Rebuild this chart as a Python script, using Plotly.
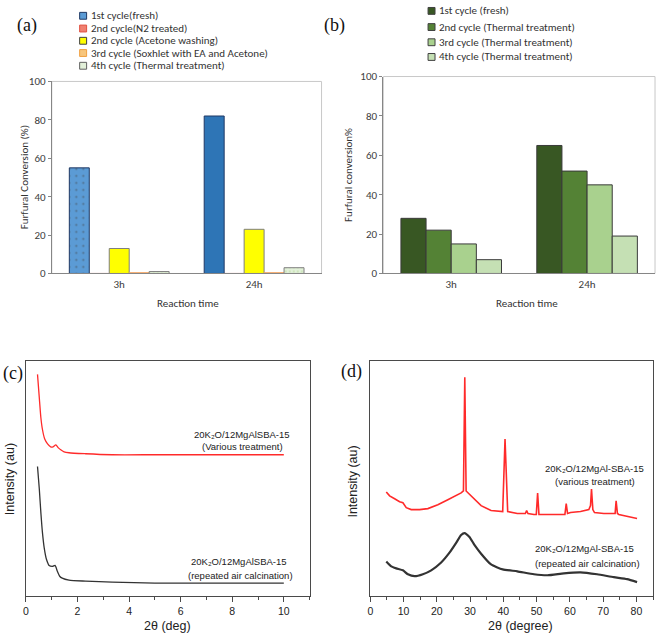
import plotly.graph_objects as go

W, H = 661, 642

# ---------------- data ----------------
categories = ["3h", "24h"]

a_names = ["1st cycle(fresh)", "2nd cycle(N2 treated)", "2nd cycle (Acetone washing)",
           "3rd cycle (Soxhlet with EA and Acetone)", "4th cycle (Thermal treatment)"]
a_fresh = [55, 82]
a_n2 = [0, 0]
a_acetone = [13, 23]
a_soxhlet = [0.4, 0.4]
a_thermal = [1, 3]

b_names = ["1st cycle (fresh)", "2nd cycle (Thermal treatment)",
           "3rd cycle (Thermal treatment)", "4th cycle (Thermal treatment)"]
b_cycle1 = [28, 65]
b_cycle2 = [22, 52]
b_cycle3 = [15, 45]
b_cycle4 = [7, 19]

bar_ticks = [0, 20, 40, 60, 80, 100]

# (c) low-angle XRD, arbitrary intensity units
c_x_treated = [0.45, 0.52, 0.58, 0.64, 0.73, 0.84, 0.96, 1.05, 1.16, 1.26, 1.35, 1.48, 1.67, 2.31, 3.34, 5.0, 7.0, 10.0]
c_y_treated = [226, 202, 182, 170, 160, 155, 152, 152, 154, 151, 149, 147, 146, 145, 144, 144, 144, 144]
c_x_air = [0.45, 0.52, 0.58, 0.64, 0.71, 0.80, 0.90, 1.03, 1.13, 1.22, 1.31, 1.41, 1.67, 2.31, 3.34, 5.0, 7.0, 10.0]
c_y_air = [132, 109, 85, 65, 49, 37, 31, 30, 31, 25, 20, 18, 16, 15, 14, 13, 13, 13]
c_ticks = [0, 2, 4, 6, 8, 10]

# (d) wide-angle XRD, arbitrary intensity units
d_x_treated = [4.8, 5.8, 7.3, 8.8, 9.8, 10.8, 12.3, 14.8, 17.3, 20.3, 23.3, 25.8, 27.3, 28.0,
               28.4, 28.8, 30.3, 33.3, 36.3, 39.8, 40.5, 41.3, 44.2, 46.6, 47.0, 47.4, 49.2,
               49.9, 50.3, 50.7, 51.7, 56.2, 58.5, 58.9, 59.3, 60.2, 63.2, 65.7, 66.2, 66.5,
               66.9, 67.4, 70.2, 73.2, 73.6, 73.9, 74.3, 74.7, 77.2, 80.2]
d_y_treated = [106, 102, 99, 96, 95, 90, 88, 88, 89, 93, 98, 102, 105, 107,
               223, 107, 102, 92, 87, 86, 160, 86, 84, 84, 87, 84, 83,
               83, 105, 83, 83, 83, 83, 94, 84, 85, 86, 88, 92, 109,
               88, 85, 84, 84, 84, 97, 84, 83, 81, 79]
d_x_air = [4.8, 6.3, 7.8, 9.8, 11.3, 13.3, 15.8, 18.3, 21.3, 23.8, 25.8, 27.3, 28.3, 29.8,
           31.3, 33.3, 36.3, 39.8, 44.2, 49.2, 53.3, 58.2, 63.2, 68.2, 73.2, 77.2, 80.2]
d_y_air = [35, 30, 28, 26, 22, 20, 22, 26, 34, 44, 54, 62, 64, 60,
           52, 43, 32, 27, 25, 22, 21, 23, 24, 22, 19, 17, 14]
d_ticks = [0, 10, 20, 30, 40, 50, 60, 70, 80]

# ---------------- layout helpers ----------------
def px(x):
    return x / W

def py(y):
    return 1 - y / H

SANS = "Carlito, Lato, Liberation Sans, sans-serif"
ARIAL = "Liberation Sans Narrow, Arial Narrow, Liberation Sans, Arial, sans-serif"
SERIF = "Liberation Serif, Times New Roman, serif"

fig = go.Figure()

# ---- panel (a) ----
a_series = [a_fresh, a_n2, a_acetone, a_soxhlet, a_thermal]
a_fill = [["#5b9bd5", "#2e75b6"], "#f08070", "#ffff00", "#f4b183", "#e2f0d9"]
a_line = ["#1f3864", "#c0504d", "#7f7f7f", "#f4a460", "#7f7f7f"]
for i, (vals, nm) in enumerate(zip(a_series, a_names)):
    marker = dict(color=a_fill[i], line=dict(color=a_line[i], width=1))
    if i == 0:
        marker["pattern"] = dict(shape=[".", ""], fgcolor="#c08a40", size=7, solidity=0.08)
    if i == 4:
        marker["pattern"] = dict(shape=".", fgcolor="#a9d18e", size=4, solidity=0.2)
    fig.add_trace(go.Bar(x=categories, y=vals, name=nm, marker=marker,
                         xaxis="x", yaxis="y", showlegend=False))

# ---- panel (b) ----
b_series = [b_cycle1, b_cycle2, b_cycle3, b_cycle4]
b_fill = ["#385723", "#548235", "#a9d18e", "#c5e0b4"]
for vals, nm, col in zip(b_series, b_names, b_fill):
    fig.add_trace(go.Bar(x=categories, y=vals, name=nm,
                         marker=dict(color=col, line=dict(color="#3a3a3a", width=1)),
                         xaxis="x2", yaxis="y2", showlegend=False))

# ---- panel (c) ----
fig.add_trace(go.Scatter(x=c_x_treated, y=c_y_treated, mode="lines",
                         line=dict(color="#ff2a2a", width=1.3, shape="spline", smoothing=0.6),
                         xaxis="x3", yaxis="y3", showlegend=False))
fig.add_trace(go.Scatter(x=c_x_air, y=c_y_air, mode="lines",
                         line=dict(color="#333333", width=1.3, shape="spline", smoothing=0.6),
                         xaxis="x3", yaxis="y3", showlegend=False))

# ---- panel (d) ----
fig.add_trace(go.Scatter(x=d_x_treated, y=d_y_treated, mode="lines", line=dict(color="#ff2a2a", width=1.6),
                         xaxis="x4", yaxis="y4", showlegend=False))
fig.add_trace(go.Scatter(x=d_x_air, y=d_y_air, mode="lines",
                         line=dict(color="#333333", width=2.2, shape="spline", smoothing=0.5),
                         xaxis="x4", yaxis="y4", showlegend=False))

bar_tickfont = dict(family=SANS, size=11, color="#404040")
xyfont = dict(family=ARIAL, size=10.5, color="#222222")

fig.update_layout(
    width=W, height=H, margin=dict(l=0, r=0, t=0, b=0),
    paper_bgcolor="white", plot_bgcolor="white",
    barmode="group", bargap=0.26, bargroupgap=0,
    xaxis=dict(domain=[px(49), px(320)], anchor="y", type="category", range=[-0.5, 1.5],
               showline=True, linecolor="#868686", linewidth=1, ticks="", tickfont=bar_tickfont,
               showgrid=False, zeroline=False),
    yaxis=dict(domain=[py(273), py(77)], anchor="x", range=[0, 100], tickvals=bar_ticks,
               showline=True, linecolor="#868686", linewidth=1, ticks="outside", ticklen=3,
               tickcolor="#868686", tickfont=bar_tickfont, showgrid=False, zeroline=False),
    xaxis2=dict(domain=[px(382), px(655)], anchor="y2", type="category", range=[-0.5, 1.5],
                showline=True, linecolor="#868686", linewidth=1, ticks="", tickfont=bar_tickfont,
                showgrid=False, zeroline=False),
    yaxis2=dict(domain=[py(273), py(72)], anchor="x2", range=[0, 100], tickvals=bar_ticks,
                showline=True, linecolor="#868686", linewidth=1, ticks="outside", ticklen=3,
                tickcolor="#868686", tickfont=bar_tickfont, showgrid=False, zeroline=False),
    xaxis3=dict(domain=[px(23), px(308)], anchor="y3", range=[0, 11], tickvals=c_ticks,
                showline=True, mirror=True, linecolor="#4a4a4a", linewidth=1.2,
                ticks="outside", ticklen=5, tickcolor="#4a4a4a",
                minor=dict(dtick=1, ticks="outside", ticklen=3, tickcolor="#4a4a4a"),
                tickfont=xyfont, showgrid=False, zeroline=False),
    yaxis3=dict(domain=[py(602), py(362)], anchor="x3", range=[0, 240], showticklabels=False,
                showline=True, mirror=True, linecolor="#4a4a4a", linewidth=1.2, ticks="",
                showgrid=False, zeroline=False),
    xaxis4=dict(domain=[px(369), px(653)], anchor="y4", range=[0, 85], tickvals=d_ticks,
                showline=True, mirror=True, linecolor="#4a4a4a", linewidth=1.2,
                ticks="outside", ticklen=5, tickcolor="#4a4a4a",
                minor=dict(dtick=5, ticks="outside", ticklen=3, tickcolor="#4a4a4a"),
                tickfont=xyfont, showgrid=False, zeroline=False),
    yaxis4=dict(domain=[py(602), py(362)], anchor="x4", range=[0, 240], showticklabels=False,
                showline=True, mirror=True, linecolor="#4a4a4a", linewidth=1.2, ticks="",
                showgrid=False, zeroline=False),
)

shapes = []
for xr, yr in [("x domain", "y domain"), ("x2 domain", "y2 domain")]:
    shapes.append(dict(type="rect", xref=xr, yref=yr, x0=0, x1=1, y0=0, y1=1,
                       line=dict(color="#c8c8c8", width=1), layer="below"))

annotations = []

def txt(x, y, s, size=11, family=SANS, color="#333333", xanchor="center", angle=0):
    annotations.append(dict(x=px(x), y=py(y), xref="paper", yref="paper", text=s, showarrow=False,
                            font=dict(family=family, size=size, color=color),
                            xanchor=xanchor, yanchor="middle", textangle=angle))

# legend (a)
a_leg_fill = ["#5b9bd5", "#f08070", "#ffff00", "#f7c67d", "#e2f0d9"]
a_leg_line = ["#1f3864", "#e05040", "#404040", "#f0a040", "#606060"]
a_leg_y = [10, 23, 35.5, 48, 61]
for nm, f, l, yy in zip(a_names, a_leg_fill, a_leg_line, a_leg_y):
    shapes.append(dict(type="rect", xref="paper", yref="paper", x0=px(77), x1=px(84),
                       y0=py(yy + 3.5), y1=py(yy - 3.5), fillcolor=f, line=dict(color=l, width=1)))
    txt(86, yy, nm, size=11, xanchor="left")

# legend (b)
b_leg_y = [5, 21.5, 37, 52]
for nm, f, yy in zip(b_names, b_fill, b_leg_y):
    shapes.append(dict(type="rect", xref="paper", yref="paper", x0=px(427), x1=px(434),
                       y0=py(yy + 3.5), y1=py(yy - 3.5), fillcolor=f, line=dict(color="#404040", width=1)))
    txt(436, yy, nm, size=11, xanchor="left")

# bar axis titles
txt(186, 304, "Reaction time", size=11)
txt(526, 304, "Reaction time", size=11)
txt(22, 175, "Furfural Conversion (%)", size=11, angle=-90)
txt(347, 172, "Furfural conversion%", size=11, angle=-90)

# panel labels
txt(24, 20, "(a)", size=18, family=SERIF, color="#111111")
txt(333, 20, "(b)", size=18, family=SERIF, color="#111111")
txt(10, 375, "(c)", size=18, family=SERIF, color="#111111")
txt(350, 373, "(d)", size=18, family=SERIF, color="#111111")

# XRD axis titles
txt(165, 633, "2θ (deg)", size=12.5, family=ARIAL, color="#222222")
txt(520, 633, "2θ (degree)", size=12.5, family=ARIAL, color="#222222")
txt(7, 483, "Intensity (au)", size=12.5, family=ARIAL, color="#222222", angle=-90)
txt(352, 485, "Intensity (au)", size=12.5, family=ARIAL, color="#222222", angle=-90)

# XRD curve labels
LBL = 9.5
txt(240, 437, "20K₂O/12MgAlSBA-15", size=LBL, family=ARIAL, color="#222222")
txt(241, 450, "(Various treatment)", size=LBL, family=ARIAL, color="#222222")
txt(237, 567, "20K₂O/12MgAlSBA-15", size=LBL, family=ARIAL, color="#222222")
txt(239, 581, "(repeated air calcination)", size=LBL, family=ARIAL, color="#222222")
txt(594, 472, "20K₂O/12MgAl-SBA-15", size=LBL, family=ARIAL, color="#222222")
txt(595, 485, "(various treatment)", size=LBL, family=ARIAL, color="#222222")
txt(584, 554, "20K₂O/12MgAl-SBA-15", size=LBL, family=ARIAL, color="#222222")
txt(587, 569, "(repeated air calcination)", size=LBL, family=ARIAL, color="#222222")

fig.update_layout(shapes=shapes, annotations=annotations)
fig.write_html("out.html", config={"displayModeBar": False},
               post_script="document.body.style.margin='0';document.body.style.overflow='hidden';")
